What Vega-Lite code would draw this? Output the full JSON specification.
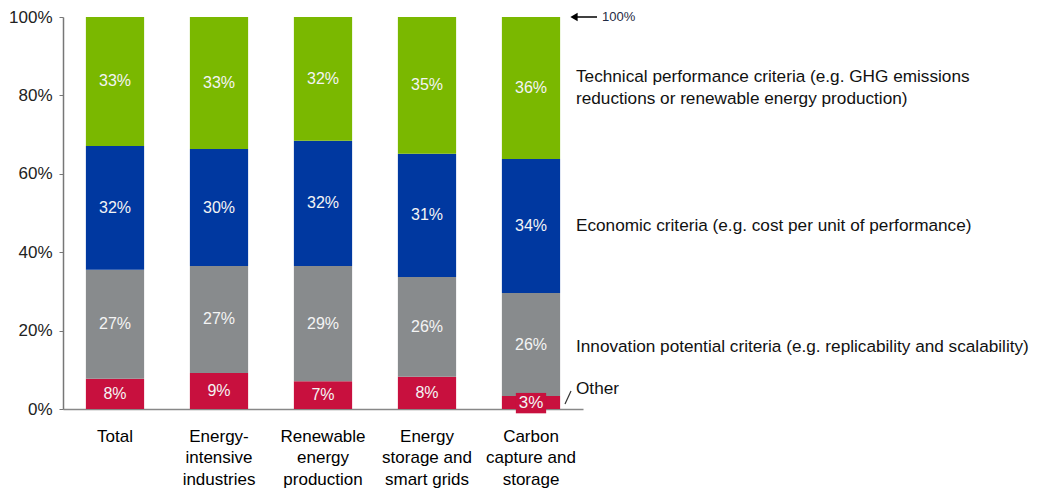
{
  "$schema": "https://vega.github.io/schema/vega-lite/v6.json",
  "width": 520,
  "height": 392,
  "autosize": {"type": "none"},
  "padding": {"left": 63, "top": 17, "right": 455, "bottom": 79},
  "config": {"view": {"stroke": null}, "font": "Liberation Sans"},
  "datasets": {
    "main": [
      {"cat": "Total", "crit": "Other", "ord": 1, "value": 7.7, "label": "8%"},
      {"cat": "Total", "crit": "Innovation", "ord": 2, "value": 27.8, "label": "27%"},
      {"cat": "Total", "crit": "Economic", "ord": 3, "value": 31.6, "label": "32%"},
      {"cat": "Total", "crit": "Technical", "ord": 4, "value": 32.9, "label": "33%"},
      {"cat": "Energy-intensive industries", "crit": "Other", "ord": 1, "value": 9.2, "label": "9%"},
      {"cat": "Energy-intensive industries", "crit": "Innovation", "ord": 2, "value": 27.3, "label": "27%"},
      {"cat": "Energy-intensive industries", "crit": "Economic", "ord": 3, "value": 29.8, "label": "30%"},
      {"cat": "Energy-intensive industries", "crit": "Technical", "ord": 4, "value": 33.7, "label": "33%"},
      {"cat": "Renewable energy production", "crit": "Other", "ord": 1, "value": 7.1, "label": "7%"},
      {"cat": "Renewable energy production", "crit": "Innovation", "ord": 2, "value": 29.4, "label": "29%"},
      {"cat": "Renewable energy production", "crit": "Economic", "ord": 3, "value": 31.9, "label": "32%"},
      {"cat": "Renewable energy production", "crit": "Technical", "ord": 4, "value": 31.6, "label": "32%"},
      {"cat": "Energy storage and smart grids", "crit": "Other", "ord": 1, "value": 8.2, "label": "8%"},
      {"cat": "Energy storage and smart grids", "crit": "Innovation", "ord": 2, "value": 25.5, "label": "26%"},
      {"cat": "Energy storage and smart grids", "crit": "Economic", "ord": 3, "value": 31.4, "label": "31%"},
      {"cat": "Energy storage and smart grids", "crit": "Technical", "ord": 4, "value": 34.9, "label": "35%"},
      {"cat": "Carbon capture and storage", "crit": "Other", "ord": 1, "value": 3.3, "label": ""},
      {"cat": "Carbon capture and storage", "crit": "Innovation", "ord": 2, "value": 26.3, "label": "26%"},
      {"cat": "Carbon capture and storage", "crit": "Economic", "ord": 3, "value": 34.2, "label": "34%"},
      {"cat": "Carbon capture and storage", "crit": "Technical", "ord": 4, "value": 36.2, "label": "36%"}
    ],
    "box": [
      {"cat": "Carbon capture and storage", "lo": -1.1, "hi": 4.1, "mid": 1.5, "label": "3%"}
    ],
    "notes": [
      {"cat": "Carbon capture and storage", "pos": 84.7, "text": "Technical performance criteria (e.g. GHG emissions\nreductions or renewable energy production)"},
      {"cat": "Carbon capture and storage", "pos": 46.7, "text": "Economic criteria (e.g. cost per unit of performance)"},
      {"cat": "Carbon capture and storage", "pos": 15.8, "text": "Innovation potential criteria (e.g. replicability and scalability)"},
      {"cat": "Carbon capture and storage", "pos": 5.1, "text": "Other"}
    ],
    "slash": [
      {"cat": "Carbon capture and storage", "y1": 1.3, "y2": 4.6}
    ],
    "top": [
      {"cat": "Carbon capture and storage", "pos": 100, "text": "100%"}
    ]
  },
  "encoding": {
    "x": {
      "field": "cat",
      "type": "nominal",
      "sort": ["Total", "Energy-intensive industries", "Renewable energy production", "Energy storage and smart grids", "Carbon capture and storage"],
      "scale": {"paddingInner": 0.44, "paddingOuter": 0.22},
      "axis": {
        "title": null,
        "labelAngle": 0,
        "ticks": false,
        "labelPadding": 19,
        "labelBaseline": "top",
        "labelFontSize": 17,
        "labelColor": "#000000",
        "labelLineHeight": 21.5,
        "domainColor": "#888888",
        "domainWidth": 1.5,
        "labelExpr": "datum.value == 'Total' ? 'Total' : datum.value == 'Energy-intensive industries' ? ['Energy-','intensive','industries'] : datum.value == 'Renewable energy production' ? ['Renewable','energy','production'] : datum.value == 'Energy storage and smart grids' ? ['Energy','storage and','smart grids'] : ['Carbon','capture and','storage']"
      }
    }
  },
  "layer": [
    {
      "data": {"name": "main"},
      "mark": {"type": "bar"},
      "encoding": {
        "y": {
          "field": "value",
          "type": "quantitative",
          "stack": "zero",
          "scale": {"domain": [0, 100], "nice": false},
          "axis": {
            "title": null,
            "values": [0, 20, 40, 60, 80, 100],
            "labelExpr": "datum.value + '%'",
            "grid": false,
            "labelFontSize": 17,
            "labelColor": "#222222",
            "tickSize": 4,
            "tickColor": "#777777",
            "domainColor": "#777777",
            "domainWidth": 1.5,
            "labelPadding": 7
          }
        },
        "color": {
          "field": "crit",
          "type": "nominal",
          "scale": {"domain": ["Other", "Innovation", "Economic", "Technical"], "range": ["#C8103E", "#888B8D", "#0038A0", "#7AB800"]},
          "legend": null
        },
        "order": {"field": "ord", "type": "quantitative"}
      }
    },
    {
      "data": {"name": "box"},
      "mark": {"type": "bar", "color": "#C8103E", "width": {"band": 0.52}},
      "encoding": {
        "y": {"field": "lo", "type": "quantitative", "title": null},
        "y2": {"field": "hi"}
      }
    },
    {
      "data": {"name": "box"},
      "mark": {"type": "text", "fontSize": 17, "color": "#F4F4F4", "baseline": "middle"},
      "encoding": {
        "y": {"field": "mid", "type": "quantitative", "title": null},
        "text": {"field": "label"}
      }
    },
    {
      "data": {"name": "main"},
      "transform": [
        {"stack": "value", "groupby": ["cat"], "sort": [{"field": "ord", "order": "ascending"}], "as": ["y0", "y1"]},
        {"calculate": "(datum.y0 + datum.y1) / 2", "as": "ymid"}
      ],
      "mark": {"type": "text", "fontSize": 16, "color": "#F4F4F4", "baseline": "middle"},
      "encoding": {
        "y": {"field": "ymid", "type": "quantitative", "title": null},
        "text": {"field": "label"}
      }
    },
    {
      "data": {"name": "notes"},
      "mark": {"type": "text", "align": "left", "baseline": "middle", "dx": 45, "fontSize": 17.2, "color": "#111111", "lineBreak": "\n", "lineHeight": 22},
      "encoding": {
        "y": {"field": "pos", "type": "quantitative", "title": null},
        "text": {"field": "text"}
      }
    },
    {
      "data": {"name": "slash"},
      "mark": {"type": "rule", "color": "#333333", "strokeWidth": 1.2, "xOffset": 34, "x2Offset": 40},
      "encoding": {
        "y": {"field": "y1", "type": "quantitative", "title": null},
        "y2": {"field": "y2"},
        "x2": {"field": "cat"}
      }
    },
    {
      "data": {"name": "top"},
      "mark": {"type": "rule", "color": "#000000", "strokeWidth": 1.5, "xOffset": 44, "x2Offset": 66},
      "encoding": {
        "y": {"field": "pos", "type": "quantitative", "title": null},
        "x2": {"field": "cat"}
      }
    },
    {
      "data": {"name": "top"},
      "mark": {"type": "point", "shape": "triangle-left", "filled": true, "color": "#000000", "opacity": 1, "size": 70, "xOffset": 43},
      "encoding": {
        "y": {"field": "pos", "type": "quantitative", "title": null}
      }
    },
    {
      "data": {"name": "top"},
      "mark": {"type": "text", "align": "left", "baseline": "middle", "dx": 71, "fontSize": 13, "color": "#1F2A44"},
      "encoding": {
        "y": {"field": "pos", "type": "quantitative", "title": null},
        "text": {"field": "text"}
      }
    }
  ]
}
